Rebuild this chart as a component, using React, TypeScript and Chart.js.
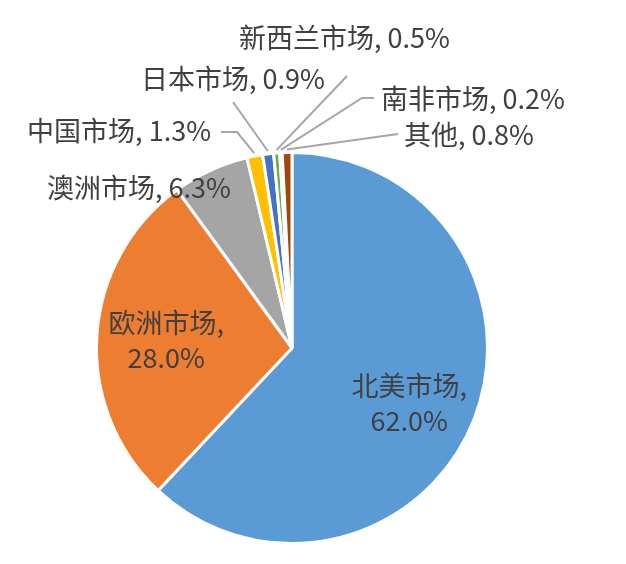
import React, { useEffect, useRef } from "react";
import { Chart, registerables } from "chart.js";

Chart.register(...registerables);

const categories = ["北美市场", "欧洲市场", "澳洲市场", "中国市场", "日本市场", "新西兰市场", "南非市场", "其他"];
const shares = [62.0, 28.0, 6.3, 1.3, 0.9, 0.5, 0.2, 0.8];
const percentLabels = ["62.0%", "28.0%", "6.3%", "1.3%", "0.9%", "0.5%", "0.2%", "0.8%"];
const colors = ["#5B9BD5", "#ED7D31", "#A5A5A5", "#FFC000", "#4472C4", "#70AD47", "#264478", "#9E480E"];

// label layout: mode inside = drawn at fraction of radius (+ nudge); outside = text anchor + leader path
type Lay = {
  mode: "inside" | "outside";
  dx?: number;
  dy?: number;
  tx?: number;
  ty?: number;
  align?: CanvasTextAlign;
  path?: [number, number][];
};
const layouts: Lay[] = [
  { mode: "inside", dx: 0, dy: 8 },
  { mode: "inside", dx: 0, dy: 0 },
  { mode: "outside", tx: 47, ty: 188, align: "left" },
  { mode: "outside", tx: 211, ty: 131, align: "right", path: [[237, 132], [221, 132]] },
  { mode: "outside", tx: 141, ty: 79, align: "left", path: [[233, 102]] },
  { mode: "outside", tx: 239, ty: 38, align: "left", path: [[347, 76]] },
  { mode: "outside", tx: 381, ty: 99, align: "left", path: [[362, 98], [374, 98]] },
  { mode: "outside", tx: 404, ty: 135, align: "left", path: [[398, 134]] },
];

const FONT = '27px "Noto Sans CJK SC", "Noto Sans", sans-serif';

const labelPlugin = {
  id: "pieLabels",
  afterDatasetsDraw(chart: any) {
    const ctx: CanvasRenderingContext2D = chart.ctx;
    const meta = chart.getDatasetMeta(0);
    ctx.save();
    ctx.font = FONT;
    ctx.fillStyle = "#404040";
    ctx.textBaseline = "middle";
    meta.data.forEach((arc: any, i: number) => {
      const p = arc.getProps(["x", "y", "startAngle", "endAngle", "outerRadius"], true);
      const mid = (p.startAngle + p.endAngle) / 2;
      const lay = layouts[i];
      if (lay.mode === "inside") {
        const r = p.outerRadius * 0.645;
        const cx = p.x + Math.cos(mid) * r + (lay.dx || 0);
        const cy = p.y + Math.sin(mid) * r + (lay.dy || 0);
        ctx.textAlign = "center";
        ctx.fillText(categories[i] + ",", cx, cy - 17);
        ctx.fillText(percentLabels[i], cx, cy + 18);
      } else {
        if (lay.path) {
          const r0 = p.outerRadius + 3;
          ctx.beginPath();
          ctx.strokeStyle = "#A6A6A6";
          ctx.lineWidth = 2;
          ctx.moveTo(p.x + Math.cos(mid) * r0, p.y + Math.sin(mid) * r0);
          lay.path.forEach(([x, y]) => ctx.lineTo(x, y));
          ctx.stroke();
        }
        ctx.textAlign = lay.align || "left";
        ctx.fillText(categories[i] + ", " + percentLabels[i], lay.tx!, lay.ty!);
      }
    });
    ctx.restore();
  },
};

export default function App() {
  const ref = useRef<HTMLCanvasElement>(null);
  useEffect(() => {
    const chart = new Chart(ref.current!, {
      type: "pie",
      data: {
        labels: categories,
        datasets: [
          {
            data: shares,
            backgroundColor: colors,
            borderColor: "#FFFFFF",
            borderWidth: 3,
          },
        ],
      },
      options: {
        responsive: false,
        animation: false,
        layout: { padding: { left: 95, right: 137, top: 151, bottom: 19 } },
        plugins: { legend: { display: false }, tooltip: { enabled: false } },
      },
      plugins: [labelPlugin],
    });
    return () => chart.destroy();
  }, []);
  return (
    <div style={{ position: "absolute", left: 0, top: 0, width: 626, height: 564, background: "#fff" }}>
      <canvas ref={ref} width={626} height={564} />
    </div>
  );
}
